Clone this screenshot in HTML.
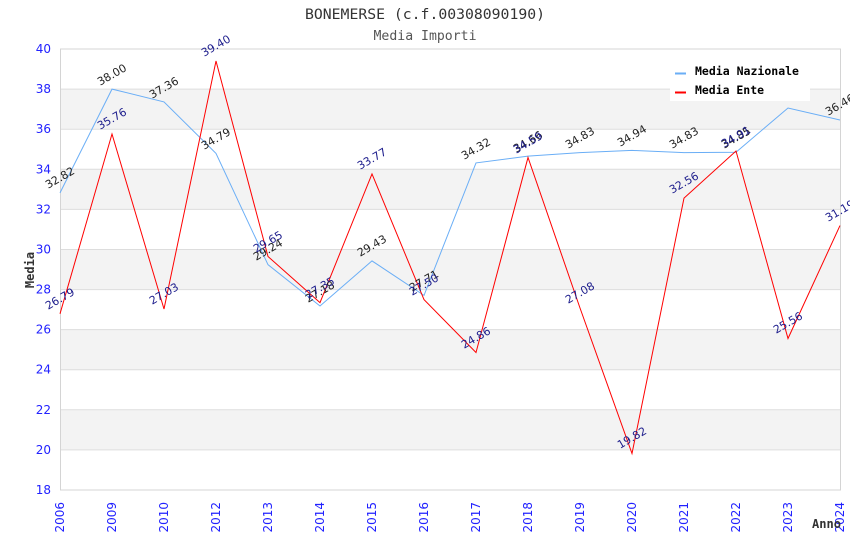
<!DOCTYPE html>
<html><head><meta charset="utf-8"><style>
html,body{margin:0;padding:0;background:#fff;}
svg{display:block;}
.lab{font-family:"DejaVu Sans","Liberation Sans",sans-serif;font-size:11px;}
.mono{font-family:"DejaVu Sans Mono","Liberation Mono",monospace;}
</style></head><body>
<svg width="850" height="550" xmlns="http://www.w3.org/2000/svg">
<rect width="850" height="550" fill="#fff"/>
<!-- bands -->
<g fill="#f3f3f3">
<rect x="60" y="89.1" width="780" height="40.1"/>
<rect x="60" y="169.3" width="780" height="40.1"/>
<rect x="60" y="249.5" width="780" height="40.1"/>
<rect x="60" y="329.6" width="780" height="40.1"/>
<rect x="60" y="409.8" width="780" height="40.1"/>
</g>
<g stroke="#dddddd" stroke-width="1">
<line x1="60" y1="89.1" x2="840" y2="89.1"/>
<line x1="60" y1="129.2" x2="840" y2="129.2"/>
<line x1="60" y1="169.3" x2="840" y2="169.3"/>
<line x1="60" y1="209.4" x2="840" y2="209.4"/>
<line x1="60" y1="249.5" x2="840" y2="249.5"/>
<line x1="60" y1="289.6" x2="840" y2="289.6"/>
<line x1="60" y1="329.6" x2="840" y2="329.6"/>
<line x1="60" y1="369.7" x2="840" y2="369.7"/>
<line x1="60" y1="409.8" x2="840" y2="409.8"/>
<line x1="60" y1="449.9" x2="840" y2="449.9"/>
</g>
<rect x="60.5" y="49" width="780" height="441" fill="none" stroke="#d4d4d4" stroke-width="1"/>
<!-- title -->
<text x="425" y="19" text-anchor="middle" class="mono" font-size="14" fill="#333" textLength="240" lengthAdjust="spacingAndGlyphs">BONEMERSE (c.f.00308090190)</text>
<text x="425" y="40" text-anchor="middle" class="mono" font-size="13" fill="#555" textLength="103" lengthAdjust="spacingAndGlyphs">Media Importi</text>
<!-- y ticks -->
<g font-family="DejaVu Sans, Liberation Sans, sans-serif" font-size="12" fill="#2222ff" text-anchor="end" dominant-baseline="central">
<text x="51" y="49">40</text>
<text x="51" y="89.1">38</text>
<text x="51" y="129.2">36</text>
<text x="51" y="169.3">34</text>
<text x="51" y="209.4">32</text>
<text x="51" y="249.5">30</text>
<text x="51" y="289.6">28</text>
<text x="51" y="329.6">26</text>
<text x="51" y="369.7">24</text>
<text x="51" y="409.8">22</text>
<text x="51" y="449.9">20</text>
<text x="51" y="490">18</text>
</g>
<!-- x ticks -->
<g font-family="DejaVu Sans, Liberation Sans, sans-serif" font-size="12" fill="#2222ff" text-anchor="end" dominant-baseline="central">
<text transform="translate(60,502) rotate(-90)">2006</text>
<text transform="translate(112,502) rotate(-90)">2009</text>
<text transform="translate(164,502) rotate(-90)">2010</text>
<text transform="translate(216,502) rotate(-90)">2012</text>
<text transform="translate(268,502) rotate(-90)">2013</text>
<text transform="translate(320,502) rotate(-90)">2014</text>
<text transform="translate(372,502) rotate(-90)">2015</text>
<text transform="translate(424,502) rotate(-90)">2016</text>
<text transform="translate(476,502) rotate(-90)">2017</text>
<text transform="translate(528,502) rotate(-90)">2018</text>
<text transform="translate(580,502) rotate(-90)">2019</text>
<text transform="translate(632,502) rotate(-90)">2020</text>
<text transform="translate(684,502) rotate(-90)">2021</text>
<text transform="translate(736,502) rotate(-90)">2022</text>
<text transform="translate(788,502) rotate(-90)">2023</text>
<text transform="translate(840,502) rotate(-90)">2024</text>
</g>
<!-- axis titles -->
<text transform="translate(34,270) rotate(-90)" text-anchor="middle" class="mono" font-size="12" font-weight="bold" fill="#333">Media</text>
<text x="812" y="528" class="mono" font-size="12" font-weight="bold" fill="#333" textLength="29" lengthAdjust="spacingAndGlyphs">Anno</text>
<!-- series -->
<polyline fill="none" stroke="#6aaef6" stroke-width="1" points="60,192.9 112,89.1 164,101.9 216,153.4 268,264.7 320,306 372,260.9 424,295.4 476,162.9 528,156.1 580,152.6 632,150.4 684,152.6 736,152.2 788,108 840,120"/>
<polyline fill="none" stroke="#ff0000" stroke-width="1" points="60,313.8 112,134 164,309 216,61 268,256.5 320,302.6 372,173.9 424,299.6 476,352.5 528,157.5 580,308 632,453.5 684,198.1 736,151 788,338.5 840,225.6"/>
<!-- labels nazionale -->
<g class="lab" fill="#222" text-anchor="middle" dominant-baseline="central">
<text transform="translate(60,178) rotate(-30)">32.82</text>
<text transform="translate(112,75) rotate(-30)">38.00</text>
<text transform="translate(164,88) rotate(-30)">37.36</text>
<text transform="translate(216,139) rotate(-30)">34.79</text>
<text transform="translate(268,250) rotate(-30)">29.24</text>
<text transform="translate(320,292) rotate(-30)">27.18</text>
<text transform="translate(372,246) rotate(-30)">29.43</text>
<text transform="translate(424,281) rotate(-30)">27.71</text>
<text transform="translate(476,149) rotate(-30)">34.32</text>
<text transform="translate(528,142) rotate(-30)">34.66</text>
<text transform="translate(580,138) rotate(-30)">34.83</text>
<text transform="translate(632,136) rotate(-30)">34.94</text>
<text transform="translate(684,138) rotate(-30)">34.83</text>
<text transform="translate(736,138) rotate(-30)">34.85</text>
<text transform="translate(840,105) rotate(-30)">36.46</text>
</g>
<!-- labels ente -->
<g class="lab" fill="#1c1c8c" text-anchor="middle" dominant-baseline="central">
<text transform="translate(60,299) rotate(-30)">26.79</text>
<text transform="translate(112,119) rotate(-30)">35.76</text>
<text transform="translate(164,294) rotate(-30)">27.03</text>
<text transform="translate(216,46) rotate(-30)">39.40</text>
<text transform="translate(268,242) rotate(-30)">29.65</text>
<text transform="translate(320,288) rotate(-30)">27.35</text>
<text transform="translate(372,159) rotate(-30)">33.77</text>
<text transform="translate(424,285) rotate(-30)">27.50</text>
<text transform="translate(476,338) rotate(-30)">24.86</text>
<text transform="translate(528,143) rotate(-30)">34.59</text>
<text transform="translate(580,293) rotate(-30)">27.08</text>
<text transform="translate(632,438) rotate(-30)">19.82</text>
<text transform="translate(684,183) rotate(-30)">32.56</text>
<text transform="translate(736,137) rotate(-30)">34.91</text>
<text transform="translate(788,323) rotate(-30)">25.56</text>
<text transform="translate(840,211) rotate(-30)">31.19</text>
</g>
<!-- legend -->
<rect x="670" y="58" width="140" height="43" fill="#fff"/>
<line x1="675" y1="73.5" x2="686" y2="73.5" stroke="#6aaef6" stroke-width="2"/>
<line x1="675" y1="92.5" x2="686" y2="92.5" stroke="#ff0000" stroke-width="2"/>
<text x="695" y="75" class="mono" font-size="11.5" font-weight="bold" fill="#000" textLength="104" lengthAdjust="spacingAndGlyphs">Media Nazionale</text>
<text x="695" y="94" class="mono" font-size="11.5" font-weight="bold" fill="#000" textLength="69" lengthAdjust="spacingAndGlyphs">Media Ente</text>
</svg>
</body></html>
